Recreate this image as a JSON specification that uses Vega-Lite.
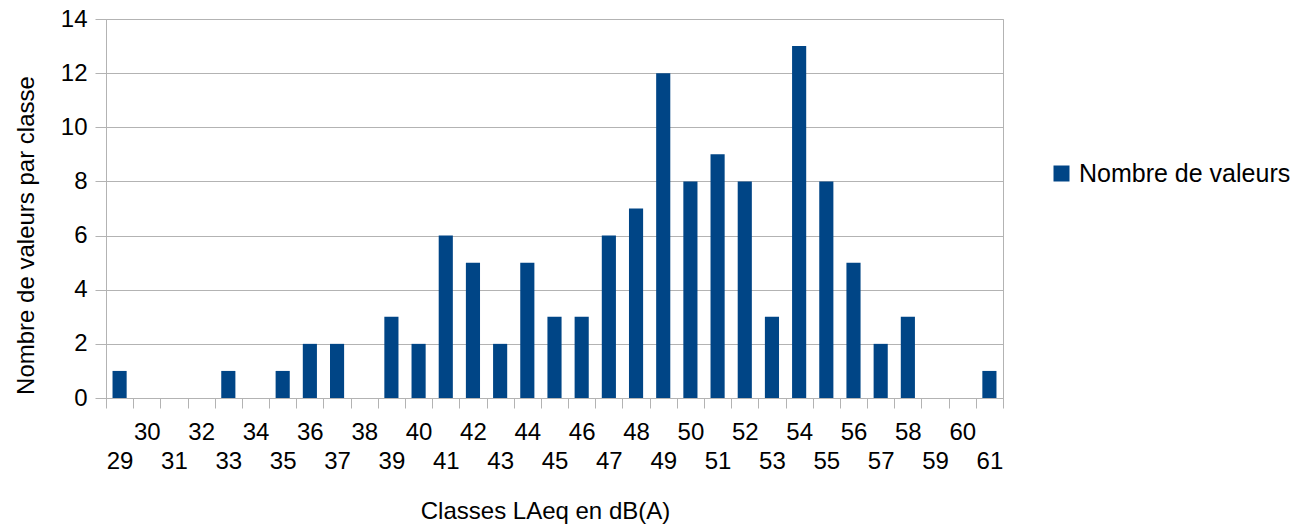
{
  "$schema": "https://vega.github.io/schema/vega-lite/v6.json",
  "width": 897,
  "height": 379,
  "autosize": {"type": "none"},
  "padding": {"left": 106, "top": 19, "right": 289, "bottom": 127},
  "background": "white",
  "config": {
    "font": "Liberation Sans",
    "view": {"stroke": "#b3b3b3", "strokeWidth": 1},
    "axis": {
      "labelFont": "Liberation Sans",
      "titleFont": "Liberation Sans",
      "labelColor": "#000000",
      "titleColor": "#000000",
      "labelFontSize": 24,
      "titleFontSize": 24,
      "titleFontWeight": "normal",
      "domainColor": "#b3b3b3",
      "tickColor": "#b3b3b3",
      "gridColor": "#b3b3b3"
    }
  },
  "data": {
    "values": [
      {"classe": 29, "n": 1}, {"classe": 30, "n": 0}, {"classe": 31, "n": 0},
      {"classe": 32, "n": 0}, {"classe": 33, "n": 1}, {"classe": 34, "n": 0},
      {"classe": 35, "n": 1}, {"classe": 36, "n": 2}, {"classe": 37, "n": 2},
      {"classe": 38, "n": 0}, {"classe": 39, "n": 3}, {"classe": 40, "n": 2},
      {"classe": 41, "n": 6}, {"classe": 42, "n": 5}, {"classe": 43, "n": 2},
      {"classe": 44, "n": 5}, {"classe": 45, "n": 3}, {"classe": 46, "n": 3},
      {"classe": 47, "n": 6}, {"classe": 48, "n": 7}, {"classe": 49, "n": 12},
      {"classe": 50, "n": 8}, {"classe": 51, "n": 9}, {"classe": 52, "n": 8},
      {"classe": 53, "n": 3}, {"classe": 54, "n": 13}, {"classe": 55, "n": 8},
      {"classe": 56, "n": 5}, {"classe": 57, "n": 2}, {"classe": 58, "n": 3},
      {"classe": 59, "n": 0}, {"classe": 60, "n": 0}, {"classe": 61, "n": 1}
    ]
  },
  "mark": {"type": "bar", "width": {"band": 0.52}},
  "encoding": {
    "x": {
      "field": "classe",
      "type": "ordinal",
      "scale": {"paddingInner": 0, "paddingOuter": 0},
      "axis": {
        "title": "Classes LAeq en dB(A)",
        "labelAngle": 0,
        "labelOverlap": false,
        "labelBaseline": "top",
        "labelLineHeight": 29,
        "labelExpr": "datum.value % 2 == 1 ? ['', datum.label] : datum.label",
        "tickBand": "extent",
        "tickSize": 10,
        "labelPadding": 12,
        "grid": false,
        "titleBaseline": "alphabetic",
        "titleAlign": "center",
        "titleX": 439,
        "titleY": 120
      }
    },
    "y": {
      "field": "n",
      "type": "quantitative",
      "scale": {"domain": [0, 14], "nice": false},
      "axis": {
        "title": "Nombre de valeurs par classe",
        "values": [0, 2, 4, 6, 8, 10, 12, 14],
        "tickSize": 11,
        "labelPadding": 8,
        "grid": true,
        "titleBaseline": "alphabetic",
        "titleAngle": -90,
        "titleX": -73,
        "titleY": 216,
        "titleAlign": "center"
      }
    },
    "color": {
      "datum": "Nombre de valeurs",
      "type": "nominal",
      "scale": {"range": ["#004586"]},
      "legend": {
        "title": null,
        "orient": "none",
        "legendX": 943,
        "legendY": 142,
        "symbolType": "square",
        "symbolSize": 256,
        "symbolStrokeWidth": 0,
        "labelFontSize": 25,
        "labelFont": "Liberation Sans",
        "labelColor": "#000000",
        "labelLimit": 400,
        "labelOffset": 5
      }
    }
  }
}
